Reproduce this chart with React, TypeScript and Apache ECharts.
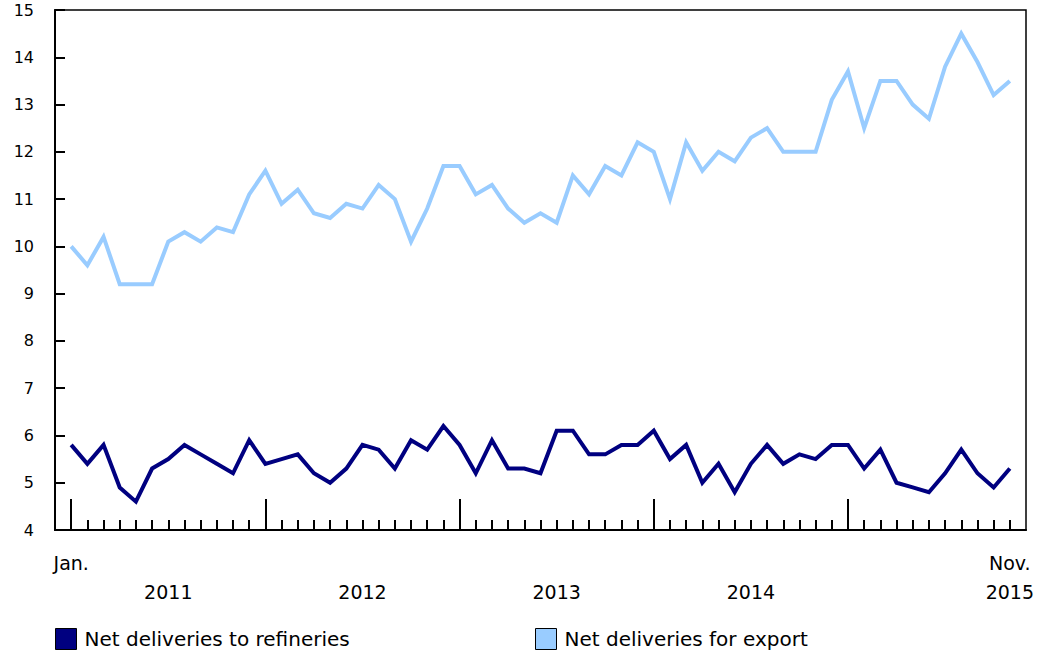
import React, { useEffect, useRef } from "react";
import * as echarts from "echarts";

const years = ["2011", "2012", "2013", "2014", "2015"];
const monthNames = ["Jan.", "Feb.", "Mar.", "Apr.", "May", "Jun.", "Jul.", "Aug.", "Sep.", "Oct.", "Nov.", "Dec."];

// Jan. 2011 .. Nov. 2015 (59 months)
const categories: string[] = [];
years.forEach((y) => monthNames.forEach((m) => categories.push(m + " " + y)));
categories.splice(59);

const refineries = [
  5.8, 5.4, 5.8, 4.9, 4.6, 5.3, 5.5, 5.8, 5.6, 5.4, 5.2, 5.9,
  5.4, 5.5, 5.6, 5.2, 5.0, 5.3, 5.8, 5.7, 5.3, 5.9, 5.7, 6.2,
  5.8, 5.2, 5.9, 5.3, 5.3, 5.2, 6.1, 6.1, 5.6, 5.6, 5.8, 5.8,
  6.1, 5.5, 5.8, 5.0, 5.4, 4.8, 5.4, 5.8, 5.4, 5.6, 5.5, 5.8,
  5.8, 5.3, 5.7, 5.0, 4.9, 4.8, 5.2, 5.7, 5.2, 4.9, 5.3,
];

const exportDeliveries = [
  10.0, 9.6, 10.2, 9.2, 9.2, 9.2, 10.1, 10.3, 10.1, 10.4, 10.3, 11.1,
  11.6, 10.9, 11.2, 10.7, 10.6, 10.9, 10.8, 11.3, 11.0, 10.1, 10.8, 11.7,
  11.7, 11.1, 11.3, 10.8, 10.5, 10.7, 10.5, 11.5, 11.1, 11.7, 11.5, 12.2,
  12.0, 11.0, 12.2, 11.6, 12.0, 11.8, 12.3, 12.5, 12.0, 12.0, 12.0, 13.1,
  13.7, 12.5, 13.5, 13.5, 13.0, 12.7, 13.8, 14.5, 13.9, 13.2, 13.5,
];

const seriesNames = ["Net deliveries to refineries", "Net deliveries for export"];
const seriesColors = ["#000080", "#99ccff"];

const yTicks = { min: 4, max: 15, interval: 1 };

const FONT = "Verdana, 'DejaVu Sans', sans-serif";

export default function App() {
  const ref = useRef<HTMLDivElement>(null);
  useEffect(() => {
    if (!ref.current) return;
    const chart = echarts.init(ref.current, null, { renderer: "svg" });
    // pad one empty month on each side of the data
    const padded = ["", ...categories, ""];
    const pad = (arr: number[]) => [null, ...arr, null];
    const last = padded.length - 2;
    const yearIdx: Record<number, string> = {};
    years.forEach((y, k) => {
      if (k < years.length - 1) yearIdx[1 + k * 12 + 6] = y;
    });
    yearIdx[last] = years[years.length - 1];
    const monthIdx: Record<number, string> = { 1: "Jan.", [last]: "Nov." };
    const majorIdx = new Set(years.map((_, k) => 1 + k * 12));

    const yLabelStyle = { fontFamily: FONT, fontSize: 16, color: "#000" };
    const xLabelStyle = { fontFamily: FONT, fontSize: 19, color: "#000" };
    const legendText = { fontFamily: FONT, fontSize: 20, color: "#000", padding: [0, 0, 0, 3] };

    chart.setOption({
      animation: false,
      grid: {
        left: 55,
        top: 10,
        width: 971,
        height: 520,
        show: true,
        borderColor: "#000",
        borderWidth: 1.5,
        backgroundColor: "transparent",
      },
      xAxis: [
        {
          type: "category",
          data: padded,
          boundaryGap: false,
          axisLine: { show: true, lineStyle: { color: "#000", width: 2 } },
          axisTick: {
            show: true,
            inside: true,
            length: 10,
            interval: (i: number) => i > 0 && i < padded.length - 1,
            lineStyle: { color: "#000", width: 2 },
          },
          axisLabel: {
            ...xLabelStyle,
            margin: 23,
            interval: (i: number) => monthIdx[i] !== undefined,
            formatter: (_v: string, i: number) => monthIdx[i] ?? "",
          },
          splitLine: { show: false },
        },
        {
          type: "category",
          data: padded,
          boundaryGap: false,
          position: "bottom",
          axisLine: { show: false },
          axisTick: {
            show: true,
            inside: true,
            length: 31,
            interval: (i: number) => majorIdx.has(i),
            lineStyle: { color: "#000", width: 2 },
          },
          axisLabel: {
            ...xLabelStyle,
            margin: 52,
            interval: (i: number) => yearIdx[i] !== undefined,
            formatter: (_v: string, i: number) => yearIdx[i] ?? "",
          },
          splitLine: { show: false },
        },
      ],
      yAxis: {
        type: "value",
        min: yTicks.min,
        max: yTicks.max,
        interval: yTicks.interval,
        axisLine: { show: true, lineStyle: { color: "#000", width: 2 } },
        axisTick: { show: true, inside: true, length: 10, lineStyle: { color: "#000", width: 2 } },
        axisLabel: { ...yLabelStyle, margin: 21 },
        splitLine: { show: false },
      },
      legend: [
        {
          left: 50,
          top: 623,
          itemWidth: 21,
          itemHeight: 21,
          icon: "rect",
          itemStyle: { borderColor: "#000", borderWidth: 1 },
          textStyle: legendText,
          data: [seriesNames[0]],
        },
        {
          left: 530,
          top: 623,
          itemWidth: 21,
          itemHeight: 21,
          icon: "rect",
          itemStyle: { borderColor: "#000", borderWidth: 1 },
          textStyle: legendText,
          data: [seriesNames[1]],
        },
      ],
      series: [
        {
          name: seriesNames[0],
          type: "line",
          xAxisIndex: 0,
          data: pad(refineries),
          symbol: "none",
          color: seriesColors[0],
          lineStyle: { color: seriesColors[0], width: 4, join: "miter" },
        },
        {
          name: seriesNames[1],
          type: "line",
          xAxisIndex: 0,
          data: pad(exportDeliveries),
          symbol: "none",
          color: seriesColors[1],
          lineStyle: { color: seriesColors[1], width: 4, join: "miter" },
        },
      ],
    });
    return () => chart.dispose();
  }, []);
  return (
    <div
      ref={ref}
      style={{ position: "fixed", left: 0, top: 0, width: 1038, height: 653, background: "#fff" }}
    />
  );
}
